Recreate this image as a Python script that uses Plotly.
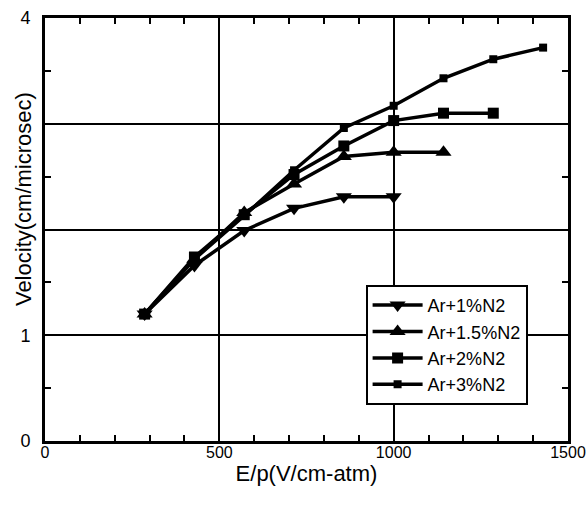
import plotly.graph_objects as go

# Reduced field E/p (V/cm-atm)
ep = [285.7, 428.6, 571.4, 714.3, 857.1, 1000.0, 1142.9, 1285.7, 1428.6]

# Drift velocity (cm/microsec) for each gas mixture
v_1pct = [1.20, 1.66, 1.99, 2.20, 2.31, 2.31]
v_15pct = [1.20, 1.72, 2.16, 2.43, 2.69, 2.73, 2.73]
v_2pct = [1.20, 1.74, 2.14, 2.52, 2.79, 3.03, 3.10, 3.10]
v_3pct = [1.20, 1.72, 2.13, 2.56, 2.96, 3.17, 3.43, 3.61, 3.72]

series_names = ["Ar+1%N2", "Ar+1.5%N2", "Ar+2%N2", "Ar+3%N2"]

x_ticks = [0, 500, 1000, 1500]
y_ticks = [0, 1, 2, 3, 4]
y_ticktext = ["0", "1", "", "", "4"]

FONT = "Liberation Sans, Arial, sans-serif"

fig = go.Figure()

styles = [
    ("triangle-down", 14),
    ("triangle-up", 14),
    ("square", 11),
    ("square", 8),
]
for name, vals, (sym, size) in zip(series_names, [v_1pct, v_15pct, v_2pct, v_3pct], styles):
    fig.add_trace(go.Scatter(
        x=ep[:len(vals)], y=vals, name=name, mode="lines+markers",
        line=dict(color="black", width=3.5),
        marker=dict(symbol=sym, size=size, color="black"),
    ))

axis_common = dict(
    showline=True, linecolor="black", linewidth=3, mirror="allticks",
    showgrid=True, gridcolor="black", gridwidth=2,
    zeroline=False, ticks="inside", ticklen=6, tickwidth=2, tickcolor="black",
    automargin=False, ticklabeloverflow="allow",
)

fig.update_xaxes(
    range=[0, 1500], tickvals=x_ticks, ticklabelstandoff=-5,
    tickfont=dict(family=FONT, size=16, color="black"),
    minor=dict(dtick=100, ticks="inside", ticklen=6, tickwidth=2, tickcolor="black", showgrid=False),
    title=dict(text="E/p(V/cm-atm)", font=dict(family=FONT, size=22, color="black"), standoff=6),
    **axis_common,
)
fig.update_yaxes(
    range=[0, 4], tickvals=y_ticks, ticktext=y_ticktext, ticklabelstandoff=8,
    tickfont=dict(family=FONT, size=18, color="black"),
    minor=dict(dtick=0.5, ticks="inside", ticklen=6, tickwidth=2, tickcolor="black", showgrid=False),
    **axis_common,
)

fig.add_annotation(
    text="Velocity(cm/microsec)", textangle=-90,
    xref="paper", yref="paper", x=-0.042, y=0.572,
    xanchor="center", yanchor="middle",
    showarrow=False, font=dict(family=FONT, size=22, color="black"),
)

fig.update_layout(
    width=588, height=505,
    margin=dict(l=45, r=20, t=18, b=64),
    paper_bgcolor="white", plot_bgcolor="white",
    font=dict(family=FONT, color="black"),
    legend=dict(
        x=0.613, y=0.369, xanchor="left", yanchor="top",
        bgcolor="white", bordercolor="black", borderwidth=2,
        font=dict(family=FONT, size=18, color="black"),
        itemwidth=50, tracegroupgap=0,
    ),
)

fig.write_html("out.html")
